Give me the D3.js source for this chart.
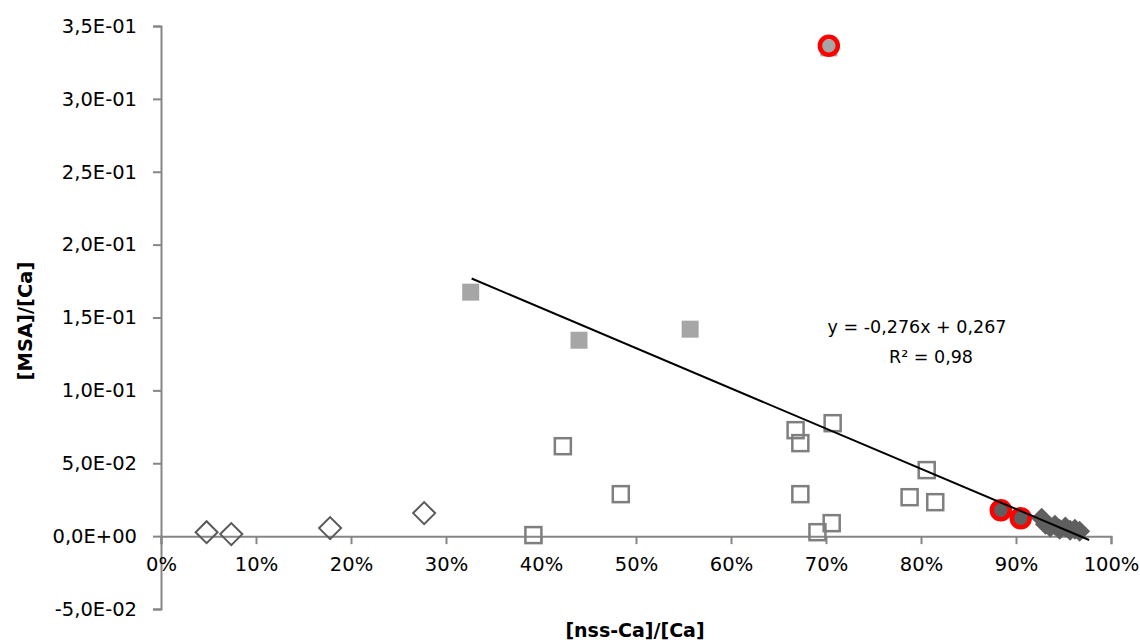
<!DOCTYPE html>
<html>
<head>
<meta charset="utf-8">
<script src="https://cdn.jsdelivr.net/npm/d3@7"></script>
<style>
  html, body { margin: 0; padding: 0; background: #fff; }
  svg text { font-family: "DejaVu Sans", sans-serif; fill: #000; }
</style>
</head>
<body>
<svg id="chart" width="1140" height="642"></svg>
<script>
// ---- data ----
const openDiamondX = [0.048, 0.074, 0.178, 0.277];
const openDiamondY = [0.0027, 0.0014, 0.0055, 0.0158];

const openSquareX = [0.392, 0.423, 0.484, 0.668, 0.673, 0.673, 0.691, 0.706, 0.707, 0.788, 0.806, 0.815];
const openSquareY = [0.0007, 0.0617, 0.0288, 0.0727, 0.0638, 0.0288, 0.0027, 0.0089, 0.0775, 0.0267, 0.0453, 0.0233];

const filledSquareX = [0.326, 0.440, 0.557, 0.703];
const filledSquareY = [0.1674, 0.1344, 0.1420, 0.3350];

const filledDiamondX = [0.884, 0.905, 0.927, 0.931, 0.936, 0.941, 0.946, 0.952, 0.957, 0.962, 0.967];
const filledDiamondY = [0.0178, 0.0123, 0.0123, 0.0082, 0.0062, 0.0075, 0.0048, 0.0062, 0.0041, 0.0048, 0.0034];

const redCircleX = [0.703, 0.884, 0.905];
const redCircleY = [0.3365, 0.0178, 0.0123];

const trendSlope = -0.276;
const trendIntercept = 0.267;
const trendRange = [0.327, 0.977];

const xTicks = [0, 0.1, 0.2, 0.3, 0.4, 0.5, 0.6, 0.7, 0.8, 0.9, 1.0];
const yTicks = [-0.05, 0, 0.05, 0.10, 0.15, 0.20, 0.25, 0.30, 0.35];
const yTickLabels = ["-5,0E-02", "0,0E+00", "5,0E-02", "1,0E-01", "1,5E-01", "2,0E-01", "2,5E-01", "3,0E-01", "3,5E-01"];

const eqLine1 = "y = -0,276x + 0,267";
const eqLine2 = "R² = 0,98";
const xTitle = "[nss-Ca]/[Ca]";
const yTitle = "[MSA]/[Ca]";

// ---- chart ----
const svg = d3.select("#chart");
const x = d3.scaleLinear().domain([0, 1]).range([161, 1111]);
const y = d3.scaleLinear().domain([-0.05, 0.35]).range([609, 26]);
const axisColor = "#868686";

// y axis
const yAxis = d3.axisLeft(y).tickValues(yTicks)
  .tickFormat((d, i) => yTickLabels[i]).tickSize(8).tickPadding(16);
const gy = svg.append("g").attr("transform", `translate(${x(0)},0)`).call(yAxis);
gy.select(".domain").attr("stroke", axisColor).attr("stroke-width", 2);
gy.selectAll(".tick line").attr("stroke", axisColor).attr("stroke-width", 2);
gy.selectAll(".tick text").style("font-size", "19.5px").attr("fill", "#000");

// x axis at y=0
const xAxis = d3.axisBottom(x).tickValues(xTicks)
  .tickFormat(d3.format(".0%")).tickSize(8).tickPadding(13);
const gx = svg.append("g").attr("transform", `translate(0,${y(0)})`).call(xAxis);
gx.select(".domain").attr("stroke", axisColor).attr("stroke-width", 2);
gx.selectAll(".tick line").attr("stroke", axisColor).attr("stroke-width", 2);
gx.selectAll(".tick text").style("font-size", "19.5px").attr("fill", "#000");

// axis titles
svg.append("text").attr("x", 635).attr("y", 637).attr("text-anchor", "middle")
  .style("font-size", "19px").style("font-weight", "bold").text(xTitle);
svg.append("text").attr("transform", "translate(32,321) rotate(-90)")
  .attr("text-anchor", "middle").style("font-size", "19.5px").style("font-weight", "bold").text(yTitle);

// open diamonds
const dSize = 11;
const diamond = (cx, cy, s) => `M${cx},${cy - s}L${cx + s},${cy}L${cx},${cy + s}L${cx - s},${cy}Z`;
svg.append("g").selectAll("path").data(d3.range(openDiamondX.length)).join("path")
  .attr("d", i => diamond(x(openDiamondX[i]), y(openDiamondY[i]), dSize))
  .attr("fill", "none").attr("stroke", "#595959").attr("stroke-width", 2);

// open squares
const sq = 16;
svg.append("g").selectAll("rect").data(d3.range(openSquareX.length)).join("rect")
  .attr("x", i => x(openSquareX[i]) - sq / 2).attr("y", i => y(openSquareY[i]) - sq / 2)
  .attr("width", sq).attr("height", sq)
  .attr("fill", "none").attr("stroke", "#7f7f7f").attr("stroke-width", 2.5);

// filled squares
const fsq = 17;
svg.append("g").selectAll("rect").data(d3.range(filledSquareX.length)).join("rect")
  .attr("x", i => x(filledSquareX[i]) - fsq / 2).attr("y", i => y(filledSquareY[i]) - fsq / 2)
  .attr("width", fsq).attr("height", fsq).attr("fill", "#a6a6a6");

// filled diamonds
svg.append("g").selectAll("path").data(d3.range(filledDiamondX.length)).join("path")
  .attr("d", i => diamond(x(filledDiamondX[i]), y(filledDiamondY[i]), 10.5))
  .attr("fill", "#5f5f5f");

// red circles
svg.append("g").selectAll("circle").data(d3.range(redCircleX.length)).join("circle")
  .attr("cx", i => x(redCircleX[i])).attr("cy", i => y(redCircleY[i])).attr("r", 9)
  .attr("fill", "none").attr("stroke", "#ff0000").attr("stroke-width", 4.5);

// trendline
svg.append("line")
  .attr("x1", x(trendRange[0])).attr("y1", y(trendSlope * trendRange[0] + trendIntercept))
  .attr("x2", x(trendRange[1])).attr("y2", y(trendSlope * trendRange[1] + trendIntercept))
  .attr("stroke", "#000").attr("stroke-width", 2);

// equation
svg.append("text").attr("x", 917).attr("y", 333).attr("text-anchor", "middle")
  .style("font-size", "17.5px").text(eqLine1);
svg.append("text").attr("x", 931).attr("y", 363).attr("text-anchor", "middle")
  .style("font-size", "17.5px").text(eqLine2);
</script>
</body>
</html>
